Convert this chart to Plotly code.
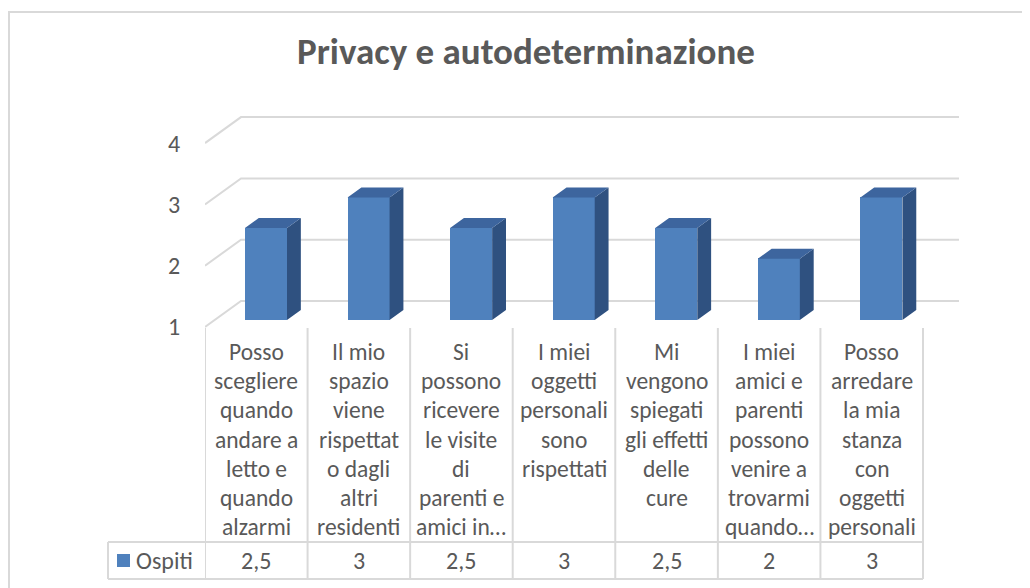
import plotly.graph_objects as go

# ---------------- data ----------------
title_text = "Privacy e autodeterminazione"
series_name = "Ospiti"
category_lines = [
    ["Posso", "scegliere", "quando", "andare a", "letto e", "quando", "alzarmi"],
    ["Il mio", "spazio", "viene", "rispettat", "o dagli", "altri", "residenti"],
    ["Si", "possono", "ricevere", "le visite", "di", "parenti e", "amici in…"],
    ["I miei", "oggetti", "personali", "sono", "rispettati"],
    ["Mi", "vengono", "spiegati", "gli effetti", "delle", "cure"],
    ["I miei", "amici e", "parenti", "possono", "venire a", "trovarmi", "quando…"],
    ["Posso", "arredare", "la mia", "stanza", "con", "oggetti", "personali"],
]
values = [2.5, 3, 2.5, 3, 2.5, 2, 3]
value_labels = ["2,5", "3", "2,5", "3", "2,5", "2", "3"]
y_ticks = [1, 2, 3, 4]

# ---------------- geometry / style ----------------
W, H = 1030, 588
OFF = 8              # page body margin compensation
FONT = "Carlito, Lato, sans-serif"
TXT = "#595959"
GRID = "#D9D9D9"
FRONT = "#4F81BD"
TOP = "#3D659E"
SIDE = "#2F5180"

X_PX0 = 205.0        # pixel of x = -0.5 (front left)
CAT_PX = 102.57      # pixels per category
Y_PX1 = 327.0        # pixel of value 1 on the front plane
VAL_PX = 61.3        # pixels per value unit
DX = 36.0 / CAT_PX   # depth shift (data units) front->back wall
DY = 26.0 / VAL_PX

def paper_x(p):
    return (p - OFF) / W

def paper_y(p):
    return 1 - (p - OFF) / H

n = len(values)
x_range = [-0.5, n - 0.5 + 0.45]
y_range = [0.5, 4.6]
x_dom = [paper_x(X_PX0), paper_x(X_PX0 + (x_range[1] - x_range[0]) * CAT_PX)]
y_dom = [paper_y(Y_PX1 + (1 - y_range[0]) * VAL_PX), paper_y(Y_PX1 - (y_range[1] - 1) * VAL_PX)]

fig = go.Figure()
shapes = []
annotations = []

# back wall / side wall gridlines (below the bars)
for v in y_ticks:
    shapes.append(dict(type="path", xref="x", yref="y", layer="below",
                       path="M {} {} L {} {} L {} {}".format(-0.5, v, -0.5 + DX, v + DY, n - 0.5 + DX, v + DY),
                       line=dict(color=GRID, width=2)))

# bars (pseudo 3D)
BAR_D0 = 7.0 / 26.0     # bar front depth fraction
BAR_DD = 10.0 / 26.0    # bar depth fraction
BAR_W = 0.41
xc = [i + BAR_D0 * DX for i in range(n)]
base = 1 + BAR_D0 * DY
ddx, ddy = BAR_DD * DX, BAR_DD * DY

side_x, side_y, top_x, top_y = [], [], [], []
for i, v in enumerate(values):
    xl = xc[i] - BAR_W / 2
    xr = xc[i] + BAR_W / 2
    yt = base + (v - 1)
    side_x += [xr, xr + ddx, xr + ddx, xr, xr, None]
    side_y += [base, base + ddy, yt + ddy, yt, base, None]
    top_x += [xl, xl + ddx, xr + ddx, xr, xl, None]
    top_y += [yt, yt + ddy, yt + ddy, yt, yt, None]

fig.add_trace(go.Bar(
    x=xc, y=[v - 1 for v in values], base=base, width=BAR_W,
    marker=dict(color=FRONT, line=dict(width=0)), name=series_name, showlegend=False,
    hoverinfo="skip"))
fig.add_trace(go.Scatter(x=side_x, y=side_y, fill="toself", fillcolor=SIDE, mode="lines",
                         line=dict(width=0, color=SIDE), hoverinfo="skip", showlegend=False))
fig.add_trace(go.Scatter(x=top_x, y=top_y, fill="toself", fillcolor=TOP, mode="lines",
                         line=dict(width=0, color=TOP), hoverinfo="skip", showlegend=False))

# chart border
shapes.append(dict(type="rect", xref="paper", yref="paper",
                   x0=paper_x(9), x1=paper_x(W + 20), y0=paper_y(H + 20), y1=paper_y(12),
                   line=dict(color=GRID, width=2), fillcolor="rgba(0,0,0,0)", layer="below"))

# data table
TABLE_TOP = 328
ROW_TOP = 542
ROW_BOT = 579
LEG_X = 108
for i in range(n + 1):
    shapes.append(dict(type="line", xref="x", yref="paper", x0=i - 0.5, x1=i - 0.5,
                       y0=paper_y(TABLE_TOP), y1=paper_y(ROW_BOT), line=dict(color=GRID, width=2)))
for yy in (ROW_TOP, ROW_BOT):
    shapes.append(dict(type="line", xref="paper", yref="paper", x0=paper_x(LEG_X),
                       x1=paper_x(X_PX0 + n * CAT_PX), y0=paper_y(yy), y1=paper_y(yy),
                       line=dict(color=GRID, width=2)))
shapes.append(dict(type="line", xref="paper", yref="paper", x0=paper_x(LEG_X), x1=paper_x(LEG_X),
                   y0=paper_y(ROW_TOP), y1=paper_y(ROW_BOT), line=dict(color=GRID, width=2)))
# legend key
shapes.append(dict(type="rect", xref="paper", yref="paper", x0=paper_x(117), x1=paper_x(130),
                   y0=paper_y(567), y1=paper_y(554), fillcolor=FRONT, line=dict(width=0)))
annotations.append(dict(text=series_name, xref="paper", yref="paper", x=paper_x(134), y=paper_y(560.5),
                        xanchor="left", yanchor="middle", showarrow=False,
                        font=dict(family=FONT, size=24, color=TXT)))

LINE0 = 352
LINE_PITCH = 29.2
for i, lines in enumerate(category_lines):
    for k, ln in enumerate(lines):
        annotations.append(dict(text=ln, xref="x", yref="paper", x=i, y=paper_y(LINE0 + k * LINE_PITCH),
                                xanchor="center", yanchor="middle", showarrow=False,
                                font=dict(family=FONT, size=23.5, color=TXT)))
    annotations.append(dict(text=value_labels[i], xref="x", yref="paper", x=i, y=paper_y(560.5),
                            xanchor="center", yanchor="middle", showarrow=False,
                            font=dict(family=FONT, size=24, color=TXT)))

# title
annotations.append(dict(text="<b>" + title_text + "</b>", xref="paper", yref="paper",
                        x=paper_x(526), y=paper_y(52), xanchor="center", yanchor="middle",
                        showarrow=False, font=dict(family=FONT, size=37, color=TXT)))

fig.update_layout(
    width=W, height=H, margin=dict(l=0, r=0, t=0, b=0),
    paper_bgcolor="white", plot_bgcolor="rgba(0,0,0,0)",
    showlegend=False, shapes=shapes, annotations=annotations, bargap=0,
    xaxis=dict(domain=x_dom, range=x_range, visible=False, fixedrange=True),
    yaxis=dict(domain=y_dom, range=y_range, tickvals=y_ticks, ticktext=[str(t) for t in y_ticks],
               showgrid=False, zeroline=False, showline=False, ticks="outside", ticklen=19,
               tickcolor="rgba(0,0,0,0)", tickfont=dict(family=FONT, size=24, color=TXT),
               fixedrange=True),
)

fig.write_html("out.html")
